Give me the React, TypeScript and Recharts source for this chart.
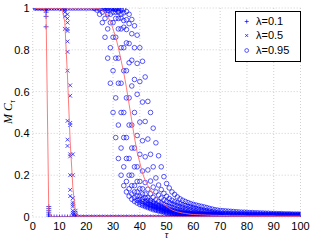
import React from 'react';
import { ScatterChart, Scatter, XAxis, YAxis, CartesianGrid, Legend } from 'recharts';

// ---------- data ----------
const tau = [
  1, 2, 3, 4, 5, 6, 7, 8, 9, 10,
  11, 12, 13, 14, 15, 16, 17, 18, 19, 20,
  21, 22, 23, 24, 25, 26, 27, 28, 29, 30,
  31, 32, 33, 34, 35, 36, 37, 38, 39, 40,
  41, 42, 43, 44, 45, 46, 47, 48, 49, 50,
  51, 52, 53, 54, 55, 56, 57, 58, 59, 60,
  61, 62, 63, 64, 65, 66, 67, 68, 69, 70,
  71, 72, 73, 74, 75, 76, 77, 78, 79, 80,
  81, 82, 83, 84, 85, 86, 87, 88, 89, 90,
  91, 92, 93, 94, 95, 96, 97, 98, 99, 100,
];

const xTicks = [0, 10, 20, 30, 40, 50, 60, 70, 80, 90, 100];
const yTicks = [0, 0.2, 0.4, 0.6, 0.8, 1];
const seriesLabels = ['λ=0.1', 'λ=0.5', 'λ=0.95'];

// trial values of MC_tau for each tau (lambda = 0.1)
const mc01: number[][] = [
  [1], [1], [1], [1], [1, 0.99, 0.98, 0.96, 0.91], [0.05, 0.04, 0.03, 0.02, 0.01, 0], [0], [0], [0], [0],
  [0], [0], [0], [0], [0], [0], [0], [0], [0], [0],
  [0], [0], [0], [0], [0], [0], [0], [0], [0], [0],
  [0], [0], [0], [0], [0], [0], [0], [0], [0], [0],
  [0], [0], [0], [0], [0], [0], [0], [0], [0], [0],
  [0], [0], [0], [0], [0], [0], [0], [0], [0], [0],
  [0], [0], [0], [0], [0], [0], [0], [0], [0], [0],
  [0], [0], [0], [0], [0], [0], [0], [0], [0], [0],
  [0], [0], [0], [0], [0], [0], [0], [0], [0], [0],
  [0], [0], [0], [0], [0], [0], [0], [0], [0], [0],
];

// lambda = 0.5
const mc05: number[][] = [
  [1], [1], [1], [1], [1], [1], [1], [1], [1], [1],
  [1, 0.995], [1, 0.99, 0.98, 0.96, 0.9],
  [0.97, 0.95, 0.93, 0.9, 0.89, 0.84, 0.79, 0.7, 0.46, 0.37, 0.34],
  [0.63, 0.58, 0.45, 0.44, 0.3, 0.29, 0.2, 0.13, 0.1],
  [0.3, 0.2, 0.09, 0.07, 0.06, 0.05, 0.03, 0.02, 0.01],
  [0.03, 0.02, 0.01, 0.005, 0], [0], [0], [0], [0],
  [0], [0], [0], [0], [0], [0], [0], [0], [0], [0],
  [0], [0], [0], [0], [0], [0], [0], [0], [0], [0],
  [0], [0], [0], [0], [0], [0], [0], [0], [0], [0],
  [0], [0], [0], [0], [0], [0], [0], [0], [0], [0],
  [0], [0], [0], [0], [0], [0], [0], [0], [0], [0],
  [0], [0], [0], [0], [0], [0], [0], [0], [0], [0],
  [0], [0], [0], [0], [0], [0], [0], [0], [0], [0],
  [0], [0], [0], [0], [0], [0], [0], [0], [0], [0],
];

// lambda = 0.95
const mc095: number[][] = [
  [1], [1], [1], [1], [1], [1], [1], [1], [1], [1],
  [1], [1], [1], [1], [1], [1], [1], [1], [1], [1],
  [1], [1], [1, 0.998], [1, 0.99], [1, 0.995, 0.97], [1, 0.998, 0.98, 0.93],
  [1, 0.998, 0.99, 0.95, 0.86], [1, 0.999, 0.99, 0.97, 0.9, 0.76],
  [1, 0.995, 0.97, 0.93, 0.81, 0.64], [1, 0.999, 0.995, 0.98, 0.93, 0.86, 0.7, 0.5],
  [1, 0.995, 0.994, 0.98, 0.95, 0.86, 0.76, 0.57, 0.38],
  [0.28, 0.44, 0.64, 0.76, 0.9, 0.95, 0.979, 0.985, 0.997, 1],
  [0.2, 0.33, 0.5, 0.64, 0.81, 0.9, 0.952, 0.97, 0.991, 0.997],
  [0.15, 0.24, 0.38, 0.5, 0.7, 0.81, 0.908, 0.94, 0.977, 0.993],
  [0.12, 0.17, 0.28, 0.38, 0.57, 0.7, 0.833, 0.897, 0.944, 0.983],
  [0.1, 0.135, 0.2, 0.28, 0.44, 0.57, 0.738, 0.83, 0.925, 0.97],
  [0.085, 0.11, 0.15, 0.2, 0.33, 0.44, 0.627, 0.75, 0.877, 0.945],
  [0.075, 0.092, 0.12, 0.15, 0.24, 0.33, 0.5, 0.658, 0.81, 0.915],
  [0.067, 0.08, 0.1, 0.12, 0.17, 0.24, 0.39, 0.587, 0.735, 0.87],
  [0.06, 0.071, 0.085, 0.1, 0.135, 0.17, 0.3, 0.454, 0.648, 0.81],
  [0.055, 0.063, 0.075, 0.085, 0.11, 0.135, 0.22, 0.365, 0.55, 0.745],
  [0.05, 0.057, 0.067, 0.075, 0.092, 0.11, 0.165, 0.288, 0.457, 0.67],
  [0.045, 0.052, 0.06, 0.067, 0.08, 0.092, 0.133, 0.225, 0.373, 0.553],
  [0.04, 0.047, 0.055, 0.06, 0.071, 0.08, 0.111, 0.172, 0.3, 0.5],
  [0.035, 0.042, 0.05, 0.055, 0.063, 0.071, 0.094, 0.143, 0.24, 0.425],
  [0.032, 0.037, 0.045, 0.05, 0.057, 0.063, 0.083, 0.12, 0.187, 0.355],
  [0.029, 0.033, 0.04, 0.045, 0.052, 0.057, 0.074, 0.105, 0.153, 0.293],
  [0.026, 0.03, 0.035, 0.04, 0.047, 0.052, 0.066, 0.091, 0.131, 0.24],
  [0.023, 0.027, 0.032, 0.035, 0.042, 0.047, 0.06, 0.082, 0.113, 0.193],
  [0.02, 0.024, 0.029, 0.032, 0.037, 0.042, 0.055, 0.074, 0.099, 0.16],
  [0.018, 0.021, 0.026, 0.029, 0.033, 0.037, 0.051, 0.068, 0.088, 0.139],
  [0.017, 0.019, 0.023, 0.026, 0.03, 0.033, 0.046, 0.063, 0.08, 0.12],
  [0.016, 0.018, 0.02, 0.023, 0.027, 0.03, 0.042, 0.058, 0.073, 0.108],
  [0.014, 0.016, 0.018, 0.02, 0.024, 0.027, 0.037, 0.054, 0.068, 0.096],
  [0.013, 0.015, 0.017, 0.018, 0.021, 0.024, 0.034, 0.05, 0.063, 0.087],
  [0.012, 0.014, 0.016, 0.017, 0.019, 0.021, 0.031, 0.046, 0.058, 0.08],
  [0.012, 0.013, 0.014, 0.016, 0.018, 0.019, 0.028, 0.042, 0.055, 0.074],
  [0.011, 0.012, 0.013, 0.014, 0.016, 0.018, 0.025, 0.039, 0.051, 0.069],
  [0.01, 0.012, 0.012, 0.013, 0.015, 0.016, 0.023, 0.035, 0.048, 0.064],
  [0.01, 0.011, 0.012, 0.012, 0.014, 0.015, 0.02, 0.033, 0.044, 0.06],
  [0.01, 0.011, 0.011, 0.012, 0.013, 0.014, 0.019, 0.03, 0.04, 0.057],
  [0.009, 0.01, 0.01, 0.011, 0.012, 0.013, 0.017, 0.028, 0.037, 0.054],
  [0.009, 0.01, 0.01, 0.01, 0.012, 0.012, 0.016, 0.026, 0.034, 0.051],
  [0.008, 0.009, 0.01, 0.01, 0.011, 0.012, 0.015, 0.024, 0.032, 0.048],
  [0.008, 0.009, 0.009, 0.01, 0.011, 0.011, 0.014, 0.021, 0.03, 0.045],
  [0.008, 0.009, 0.009, 0.009, 0.01, 0.011, 0.013, 0.019, 0.028, 0.041],
  [0.007, 0.008, 0.008, 0.009, 0.01, 0.01, 0.012, 0.018, 0.025, 0.038],
  [0.007, 0.008, 0.008, 0.008, 0.01, 0.01, 0.011, 0.017, 0.023, 0.035],
  [0.007, 0.008, 0.008, 0.008, 0.009, 0.01, 0.011, 0.016, 0.021, 0.033],
  [0.006, 0.007, 0.007, 0.008, 0.009, 0.009, 0.01, 0.015, 0.019, 0.031],
  [0.03, 0.018, 0.014, 0.01, 0.007], [0.029, 0.018, 0.014, 0.01, 0.007],
  [0.028, 0.017, 0.013, 0.01, 0.007], [0.027, 0.017, 0.013, 0.009, 0.006],
  [0.026, 0.016, 0.013, 0.009, 0.006], [0.025, 0.016, 0.013, 0.009, 0.006],
  [0.024, 0.015, 0.012, 0.009, 0.006], [0.023, 0.015, 0.012, 0.009, 0.006],
  [0.023, 0.015, 0.012, 0.009, 0.006], [0.022, 0.014, 0.012, 0.009, 0.006],
  [0.021, 0.014, 0.011, 0.008, 0.006], [0.021, 0.014, 0.011, 0.008, 0.005],
  [0.02, 0.014, 0.011, 0.008, 0.005], [0.02, 0.013, 0.011, 0.008, 0.005],
  [0.019, 0.013, 0.011, 0.008, 0.005], [0.019, 0.013, 0.01, 0.008, 0.005],
  [0.018, 0.013, 0.01, 0.008, 0.005], [0.018, 0.012, 0.01, 0.008, 0.005],
  [0.017, 0.012, 0.01, 0.008, 0.005], [0.017, 0.012, 0.01, 0.008, 0.005],
  [0.016, 0.012, 0.01, 0.007, 0.005], [0.016, 0.012, 0.01, 0.007, 0.005],
  [0.016, 0.011, 0.009, 0.007, 0.005], [0.015, 0.011, 0.009, 0.007, 0.005],
  [0.015, 0.011, 0.009, 0.007, 0.005], [0.015, 0.011, 0.009, 0.007, 0.004],
  [0.014, 0.011, 0.009, 0.007, 0.004], [0.014, 0.01, 0.009, 0.007, 0.004],
  [0.014, 0.01, 0.009, 0.007, 0.004], [0.014, 0.01, 0.009, 0.007, 0.004],
];

// mean curves (red lines)
const mean01 = [
  1, 1, 1, 1, 0.97, 0.025, 0, 0, 0, 0,
  0, 0, 0, 0, 0, 0, 0, 0, 0, 0,
  0, 0, 0, 0, 0, 0, 0, 0, 0, 0,
  0, 0, 0, 0, 0, 0, 0, 0, 0, 0,
  0, 0, 0, 0, 0, 0, 0, 0, 0, 0,
  0, 0, 0, 0, 0, 0, 0, 0, 0, 0,
  0, 0, 0, 0, 0, 0, 0, 0, 0, 0,
  0, 0, 0, 0, 0, 0, 0, 0, 0, 0,
  0, 0, 0, 0, 0, 0, 0, 0, 0, 0,
  0, 0, 0, 0, 0, 0, 0, 0, 0, 0,
];
const mean05 = [
  1, 1, 1, 1, 1, 1, 1, 1, 1, 1,
  0.995, 0.93, 0.67, 0.36, 0.14, 0.02, 0, 0, 0, 0,
  0, 0, 0, 0, 0, 0, 0, 0, 0, 0,
  0, 0, 0, 0, 0, 0, 0, 0, 0, 0,
  0, 0, 0, 0, 0, 0, 0, 0, 0, 0,
  0, 0, 0, 0, 0, 0, 0, 0, 0, 0,
  0, 0, 0, 0, 0, 0, 0, 0, 0, 0,
  0, 0, 0, 0, 0, 0, 0, 0, 0, 0,
  0, 0, 0, 0, 0, 0, 0, 0, 0, 0,
  0, 0, 0, 0, 0, 0, 0, 0, 0, 0,
];
const mean095 = [
  1, 1, 1, 1, 1, 1, 1, 1, 1, 1,
  1, 1, 1, 1, 1, 1, 1, 1, 1, 1,
  1, 1, 0.999, 0.998, 0.996, 0.99, 0.98, 0.96, 0.935, 0.9,
  0.86, 0.81, 0.75, 0.69, 0.62, 0.54, 0.46, 0.38, 0.31, 0.26,
  0.21, 0.175, 0.15, 0.13, 0.11, 0.095, 0.082, 0.07, 0.06, 0.05,
  0.042, 0.034, 0.029, 0.025, 0.022, 0.019, 0.017, 0.015, 0.013, 0.012,
  0.011, 0.011, 0.01, 0.01, 0.009, 0.009, 0.008, 0.008, 0.008, 0.007,
  0.007, 0.007, 0.007, 0.006, 0.006, 0.006, 0.006, 0.006, 0.006, 0.005,
  0.005, 0.005, 0.005, 0.005, 0.005, 0.005, 0.005, 0.005, 0.005, 0.005,
  0.004, 0.004, 0.004, 0.004, 0.004, 0.004, 0.004, 0.004, 0.004, 0.004,
];

// ---------- helpers ----------
const toPoints = (vals: number[][]) =>
  vals.flatMap((vs, i) => vs.map((v) => ({ x: tau[i], y: v })));
const toLine = (m: number[]) => m.map((v, i) => ({ x: tau[i], y: v }));

const pts01 = toPoints(mc01);
const pts05 = toPoints(mc05);
const pts095 = toPoints(mc095);
const line01 = toLine(mean01);
const line05 = toLine(mean05);
const line095 = toLine(mean095);

const BLUE = '#0000ff';
const RED = '#ff6b6b';
const AXIS = '#3a3a3a';
const FONT = '"Liberation Sans", Arial, Helvetica, sans-serif';
const SERIF = '"Liberation Serif", "DejaVu Serif", serif';

const plusPath = (cx: number, cy: number, h: number) =>
  `M${cx - h},${cy}H${cx + h}M${cx},${cy - h}V${cy + h}`;
const crossPath = (cx: number, cy: number, h: number) =>
  `M${cx - h},${cy - h}L${cx + h},${cy + h}M${cx - h},${cy + h}L${cx + h},${cy - h}`;

const PlusMark = (p: any) =>
  p.cx == null ? <g /> : <path d={plusPath(p.cx, p.cy, 2.5)} stroke={BLUE} strokeWidth={0.7} fill="none" />;
const CrossMark = (p: any) =>
  p.cx == null ? <g /> : <path d={crossPath(p.cx, p.cy, 1.9)} stroke={BLUE} strokeWidth={0.7} fill="none" />;
const CircleMark = (p: any) =>
  p.cx == null ? <g /> : <circle cx={p.cx} cy={p.cy} r={2.3} stroke={BLUE} strokeWidth={0.65} fill="none" />;
const NoMark = () => <g />;

const legendMarker = (i: number, cx: number, cy: number) => {
  if (i === 0) return <path d={plusPath(cx, cy, 2)} stroke={BLUE} strokeWidth={0.7} fill="none" />;
  if (i === 1) return <path d={crossPath(cx, cy, 1.5)} stroke={BLUE} strokeWidth={0.7} fill="none" />;
  return <circle cx={cx} cy={cy} r={1.9} stroke={BLUE} strokeWidth={0.65} fill="none" />;
};

const LegendBox = () => (
  <div
    style={{
      width: 64,
      height: 49,
      border: '1px solid #000',
      background: '#fff',
      position: 'relative',
      fontFamily: FONT,
      fontSize: 11,
      color: '#000',
      lineHeight: '13px',
    }}
  >
    {seriesLabels.map((label, i) => (
      <div
        key={label}
        style={{
          position: 'absolute',
          left: 0,
          top: 3.2 + i * 14.2,
          height: 13,
          display: 'flex',
          alignItems: 'center',
          whiteSpace: 'nowrap',
        }}
      >
        <svg width={20} height={13} style={{ display: 'block' }}>
          {legendMarker(i, 10.7, 6.5)}
        </svg>
        <span>{label}</span>
      </div>
    ))}
  </div>
);

const YLabel = () => (
  <text
    transform="translate(12,112) rotate(-90)"
    textAnchor="middle"
    fontFamily={SERIF}
    fontStyle="italic"
    fontSize={12}
    fill="#000"
  >
    <tspan>M C</tspan>
    <tspan fontSize={8} dy={2.5}>τ</tspan>
  </text>
);

const XLabel = () => (
  <text x={166.6} y={238} textAnchor="middle" fontFamily={SERIF} fontStyle="italic" fontSize={10} fill="#000">
    τ
  </text>
);

const tickStyle = { fill: '#000', fontSize: 11, fontFamily: FONT };

export default function App() {
  return (
    <div style={{ position: 'absolute', left: 0, top: 0, width: 312, height: 241, background: '#fff' }}>
      <ScatterChart width={312} height={241} margin={{ top: 8, right: 11.5, bottom: 0, left: 0 }}>
        <CartesianGrid stroke="#c4c4c4" strokeDasharray="1 2" strokeWidth={0.8} />
        <XAxis
          type="number"
          dataKey="x"
          domain={[0, 100]}
          ticks={xTicks}
          interval={0}
          allowDataOverflow
          height={24}
          tickLine={false}
          axisLine={false}
          tickSize={0}
          tickMargin={5.5}
          tick={tickStyle}
          label={<XLabel />}
        />
        <YAxis
          type="number"
          dataKey="y"
          domain={[0, 1]}
          ticks={yTicks}
          interval={0}
          allowDataOverflow
          width={32.7}
          tickLine={false}
          axisLine={false}
          tickSize={0}
          tickMargin={3.2}
          tick={tickStyle}
          label={<YLabel />}
        />
        <Scatter name={seriesLabels[0]} data={pts01} shape={PlusMark} isAnimationActive={false} />
        <Scatter name={seriesLabels[1]} data={pts05} shape={CrossMark} isAnimationActive={false} />
        <Scatter name={seriesLabels[2]} data={pts095} shape={CircleMark} isAnimationActive={false} />
        <Scatter data={line01} shape={NoMark} line={{ stroke: RED, strokeWidth: 0.9 }} isAnimationActive={false} legendType="none" />
        <Scatter data={line05} shape={NoMark} line={{ stroke: RED, strokeWidth: 0.9 }} isAnimationActive={false} legendType="none" />
        <Scatter data={line095} shape={NoMark} line={{ stroke: RED, strokeWidth: 0.9 }} isAnimationActive={false} legendType="none" />
        {/* box and inward ticks */}
        <XAxis xAxisId="bottomBox" orientation="bottom" type="number" domain={[0, 100]} ticks={xTicks} interval={0} allowDataOverflow mirror height={0} tick={false} tickSize={3} stroke={AXIS} />
        <XAxis xAxisId="topBox" orientation="top" type="number" domain={[0, 100]} ticks={xTicks} interval={0} allowDataOverflow mirror height={0} tick={false} tickSize={3} stroke={AXIS} />
        <YAxis yAxisId="leftBox" orientation="left" type="number" domain={[0, 1]} ticks={yTicks} interval={0} allowDataOverflow mirror width={0} tick={false} tickSize={3} stroke={AXIS} />
        <YAxis yAxisId="rightBox" orientation="right" type="number" domain={[0, 1]} ticks={yTicks} interval={0} allowDataOverflow mirror width={0} tick={false} tickSize={3} stroke={AXIS} />
        <Legend
          layout="vertical"
          align="center"
          verticalAlign="middle"
          wrapperStyle={{ left: 235, top: 11, width: 66, height: 51 }}
          content={() => <LegendBox />}
        />
      </ScatterChart>
    </div>
  );
}
